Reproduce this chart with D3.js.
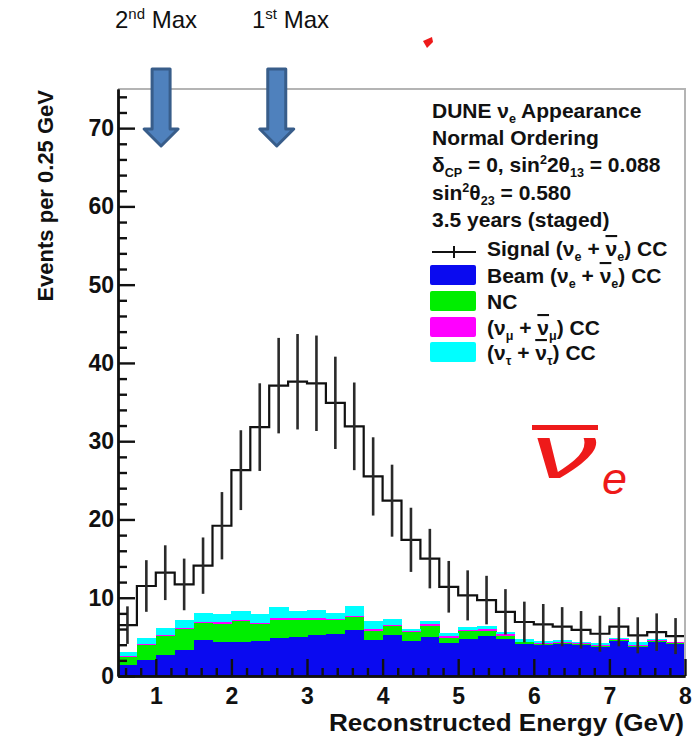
<!DOCTYPE html>
<html>
<head>
<meta charset="utf-8">
<script src="https://cdn.jsdelivr.net/npm/d3@7"></script>
<style>
  body { margin: 0; background: #fff; }
  svg { display: block; }
  text { font-family: "Liberation Sans", Arial, Helvetica, sans-serif; }
</style>
</head>
<body>
<svg id="chart" width="700" height="737"></svg>
<script>
// Reconstructed energy bins (GeV), 0.25 GeV wide
const binLowEdges = [0.5, 0.75, 1.0, 1.25, 1.5, 1.75, 2.0, 2.25, 2.5, 2.75,
                     3.0, 3.25, 3.5, 3.75, 4.0, 4.25, 4.5, 4.75, 5.0, 5.25,
                     5.5, 5.75, 6.0, 6.25, 6.5, 6.75, 7.0, 7.25, 7.5, 7.75];
const binWidth = 0.25;

// Signal (nu_e + nu_e-bar) CC, events per bin, with error bars
const signal = [6.5, 11.5, 13.2, 11.7, 14.1, 19.2, 26.3, 31.8, 37.1, 37.6,
                37.4, 34.9, 31.9, 25.5, 22.4, 17.4, 15.0, 11.4, 10.3, 9.7,
                8.2, 6.9, 6.6, 6.3, 5.9, 5.4, 6.3, 5.2, 5.6, 5.1];
const signalErr = [2.4, 3.3, 3.5, 3.3, 3.6, 4.3, 5.1, 5.6, 6.1, 6.1,
                   6.1, 5.9, 5.6, 5.0, 4.6, 4.1, 3.8, 3.3, 3.2, 3.1,
                   2.9, 2.6, 2.6, 2.5, 2.4, 2.3, 2.5, 2.3, 2.4, 2.3];

// Background components (stacked, bottom to top)
const beamCC = [1.4, 2.1, 2.7, 3.3, 4.6, 4.4, 4.4, 4.5, 4.9, 5.0,
                5.2, 5.4, 5.9, 4.6, 5.2, 4.5, 5.0, 4.25, 4.7, 5.05,
                4.7, 4.1, 3.9, 4.1, 4.0, 3.7, 4.5, 3.7, 4.4, 4.1];
const ncBkg = [1.0, 1.9, 2.4, 2.7, 2.2, 2.3, 2.6, 2.1, 2.3, 2.2,
               2.0, 1.7, 1.6, 1.2, 1.2, 1.1, 1.45, 0.65, 1.05, 0.65,
               0.4, 0.2, 0.2, 0.1, 0.15, 0.15, 0.1, 0.1, 0.1, 0.1];
const numuCC = [0.1, 0.15, 0.15, 0.15, 0.15, 0.15, 0.15, 0.15, 0.15, 0.15,
                0.15, 0.15, 0.2, 0.15, 0.15, 0.15, 0.15, 0.15, 0.15, 0.3,
                0.25, 0.1, 0.1, 0.15, 0.1, 0.1, 0.1, 0.15, 0.1, 0.1];
const nutauCC = [0.6, 0.65, 0.85, 1.05, 1.15, 1.05, 1.15, 1.15, 1.45, 0.95,
                 1.05, 0.85, 1.2, 1.05, 0.75, 0.25, 0.45, 0.45, 0.3, 0.35,
                 0.25, 0.3, 0.3, 0.25, 0.15, 0.25, 0.2, 0.35, 0.1, 0.1];

const layerKeys = ["beam", "nc", "numu", "nutau"];
const layerColors = { beam: "#0a0af0", nc: "#00ee00", numu: "#ff00ff", nutau: "#00ffff" };

// Axis ticks
const xMajorTicks = [1, 2, 3, 4, 5, 6, 7, 8];
const yMajorTicks = [0, 10, 20, 30, 40, 50, 60, 70];

// Oscillation maxima markers (GeV)
const maxMarkers = [1.07, 2.6];

const svg = d3.select("#chart");
svg.append("rect").attr("width", 700).attr("height", 737).attr("fill", "#fff");

const plot = { left: 118, right: 685, top: 89, bottom: 676 };
const x = d3.scaleLinear().domain([0.5, 8]).range([plot.left, plot.right]);
const y = d3.scaleLinear().domain([0, 75]).range([plot.bottom, plot.top]);

// ---- stacked backgrounds ----
const rows = binLowEdges.map((lo, i) => ({
  lo, beam: beamCC[i], nc: ncBkg[i], numu: numuCC[i], nutau: nutauCC[i]
}));
const stacked = d3.stack().keys(layerKeys)(rows);
const bg = svg.append("g").attr("shape-rendering", "crispEdges");
stacked.forEach(layer => {
  bg.selectAll(null).data(layer).enter().append("rect")
    .attr("x", d => x(d.data.lo))
    .attr("width", d => x(d.data.lo + binWidth) - x(d.data.lo) + 0.5)
    .attr("y", d => y(d[1]))
    .attr("height", d => Math.max(0, y(d[0]) - y(d[1])))
    .attr("fill", layerColors[layer.key]);
});

// ---- signal histogram ----
const stepPts = binLowEdges.map((lo, i) => [lo, signal[i]]);
stepPts.push([binLowEdges[binLowEdges.length - 1] + binWidth, signal[signal.length - 1]]);
svg.append("path")
  .attr("d", d3.line().x(d => x(d[0])).y(d => y(d[1])).curve(d3.curveStepAfter)(stepPts))
  .attr("fill", "none").attr("stroke", "#111").attr("stroke-width", 2.2);

svg.append("g").selectAll("line").data(binLowEdges).enter().append("line")
  .attr("x1", d => x(d + binWidth / 2)).attr("x2", d => x(d + binWidth / 2))
  .attr("y1", (d, i) => y(signal[i] - signalErr[i]))
  .attr("y2", (d, i) => y(signal[i] + signalErr[i]))
  .attr("stroke", "#2a2a2a").attr("stroke-width", 2.6);

// ---- frame ----
svg.append("path")
  .attr("d", `M${plot.left},${plot.top}H${plot.right}V${plot.bottom}`)
  .attr("fill", "none").attr("stroke", "#b4b4b4").attr("stroke-width", 2);

// ---- axes ----
const xMinor = d3.range(6, 80, 2).map(v => v / 10).filter(v => xMajorTicks.indexOf(v) < 0);
const yMinor = d3.range(0, 76, 2).filter(v => yMajorTicks.indexOf(v) < 0);

const xAxisG = svg.append("g").attr("transform", `translate(0,${plot.bottom})`);
xAxisG.append("g").call(d3.axisBottom(x).tickValues(xMinor).tickSize(-8).tickSizeOuter(0).tickFormat(""));
xAxisG.append("g").call(d3.axisBottom(x).tickValues(xMajorTicks).tickSize(-17).tickSizeOuter(0).tickPadding(12));

const yAxisG = svg.append("g").attr("transform", `translate(${plot.left},0)`);
yAxisG.append("g").call(d3.axisLeft(y).tickValues(yMinor).tickSize(-9).tickSizeOuter(0).tickFormat(""));
yAxisG.append("g").call(d3.axisLeft(y).tickValues(yMajorTicks).tickSize(-17).tickSizeOuter(0).tickPadding(4));

svg.selectAll(".domain").attr("stroke", "#111").attr("stroke-width", 2.4);
svg.selectAll(".tick line").attr("stroke", "#111").attr("stroke-width", 2.4);
svg.selectAll(".tick text").attr("font-size", 23).attr("font-weight", "bold").attr("fill", "#111")
  .attr("font-family", '"Liberation Sans", Arial, sans-serif');

// axis titles
svg.append("text")
  .attr("transform", `translate(53,${plot.top + 1}) rotate(-90)`)
  .attr("text-anchor", "end").attr("font-size", 22).attr("font-weight", "bold").attr("fill", "#111")
  .text("Events per 0.25 GeV");
svg.append("text")
  .attr("x", 329).attr("y", 731)
  .attr("textLength", 355).attr("lengthAdjust", "spacingAndGlyphs")
  .attr("font-size", 23).attr("font-weight", "bold").attr("fill", "#111")
  .text("Reconstructed Energy (GeV)");

// ---- legend ----
// parts: plain strings, or {t, sub|sup|bar}
function richText(g, px, py, parts, size) {
  const t = g.append("text").attr("x", px).attr("y", py)
    .attr("font-size", size).attr("font-weight", "bold").attr("fill", "#111");
  let shift = 0;
  parts.forEach(p => {
    const s = typeof p === "string" ? { t: p } : p;
    let target = 0, fs = size;
    if (s.sub) { target = 5; fs = size * 0.6; }
    if (s.sup) { target = -8; fs = size * 0.6; }
    const ts = t.append("tspan").attr("dy", target - shift).attr("font-size", fs).text(s.t);
    if (s.bar) ts.style("text-decoration", "overline");
    shift = target;
  });
  return t;
}

const leg = svg.append("g");
const fs = 21;
richText(leg, 432, 118, ["DUNE ν", { t: "e", sub: 1 }, " Appearance"], fs);
richText(leg, 432, 145, ["Normal Ordering"], fs);
richText(leg, 432, 172, ["δ", { t: "CP", sub: 1 }, " = 0, sin", { t: "2", sup: 1 }, "2θ", { t: "13", sub: 1 }, " = 0.088"], fs);
richText(leg, 432, 200, ["sin", { t: "2", sup: 1 }, "θ", { t: "23", sub: 1 }, " = 0.580"], fs);
richText(leg, 432, 227, ["3.5 years (staged)"], fs);

// signal entry marker
leg.append("line").attr("x1", 432).attr("x2", 476).attr("y1", 252).attr("y2", 252)
  .attr("stroke", "#111").attr("stroke-width", 2);
leg.append("line").attr("x1", 454).attr("x2", 454).attr("y1", 246).attr("y2", 258)
  .attr("stroke", "#111").attr("stroke-width", 2);
richText(leg, 487, 256, ["Signal (ν", { t: "e", sub: 1 }, " + ", { t: "ν", bar: 1 }, { t: "e", sub: 1 }, ") CC"], fs);

const swatchRows = [
  { key: "beam", y: 265, parts: ["Beam (ν", { t: "e", sub: 1 }, " + ", { t: "ν", bar: 1 }, { t: "e", sub: 1 }, ") CC"] },
  { key: "nc", y: 291, parts: ["NC"] },
  { key: "numu", y: 317, parts: ["(ν", { t: "μ", sub: 1 }, " + ", { t: "ν", bar: 1 }, { t: "μ", sub: 1 }, ") CC"] },
  { key: "nutau", y: 342, parts: ["(ν", { t: "τ", sub: 1 }, " + ", { t: "ν", bar: 1 }, { t: "τ", sub: 1 }, ") CC"] }
];
swatchRows.forEach(r => {
  leg.append("rect").attr("x", 430).attr("y", r.y).attr("width", 46).attr("height", 20)
    .attr("rx", 2).attr("fill", layerColors[r.key]);
  richText(leg, 487, r.y + 18, r.parts, fs);
});

// ---- big nu_e-bar label ----
const red = "#ee1a1a";
const serif = '"DejaVu Serif", "Liberation Serif", serif';
svg.append("rect").attr("x", 532).attr("y", 425).attr("width", 66).attr("height", 5).attr("fill", red);
svg.append("text").attr("x", 531).attr("y", 478)
  .attr("font-family", serif).attr("font-style", "italic")
  .attr("textLength", 66).attr("lengthAdjust", "spacingAndGlyphs")
  .attr("font-size", 76).attr("fill", red).text("ν");
svg.append("text").attr("x", 602).attr("y", 494)
  .attr("font-family", serif).attr("font-style", "italic")
  .attr("font-size", 45).attr("fill", red).text("e");
svg.append("path").attr("d", "M423,41 L432,37 L433,42 L427,48 Z").attr("fill", red);

// ---- maxima arrows and labels ----
const arrowFill = "#4f81bd", arrowStroke = "#385d8a";
maxMarkers.forEach(e => {
  const cx = x(e);
  const pts = [[cx - 9, 69], [cx + 9, 69], [cx + 9, 129], [cx + 17, 129], [cx, 146],
               [cx - 17, 129], [cx - 9, 129]];
  svg.append("path").attr("d", "M" + pts.map(p => p.join(",")).join("L") + "Z")
    .attr("fill", arrowFill).attr("stroke", arrowStroke).attr("stroke-width", 3)
    .attr("stroke-linejoin", "round");
});

function maxLabel(px, ord, suf) {
  const t = svg.append("text").attr("x", px).attr("y", 28).attr("font-size", 24).attr("fill", "#111")
    .attr("font-family", '"Open Sans", "Liberation Sans", sans-serif');
  t.append("tspan").text(ord);
  t.append("tspan").attr("dy", -9).attr("font-size", 15).text(suf);
  t.append("tspan").attr("dy", 9).text(" Max");
}
maxLabel(115, "2", "nd");
maxLabel(252, "1", "st");
</script>
</body>
</html>
